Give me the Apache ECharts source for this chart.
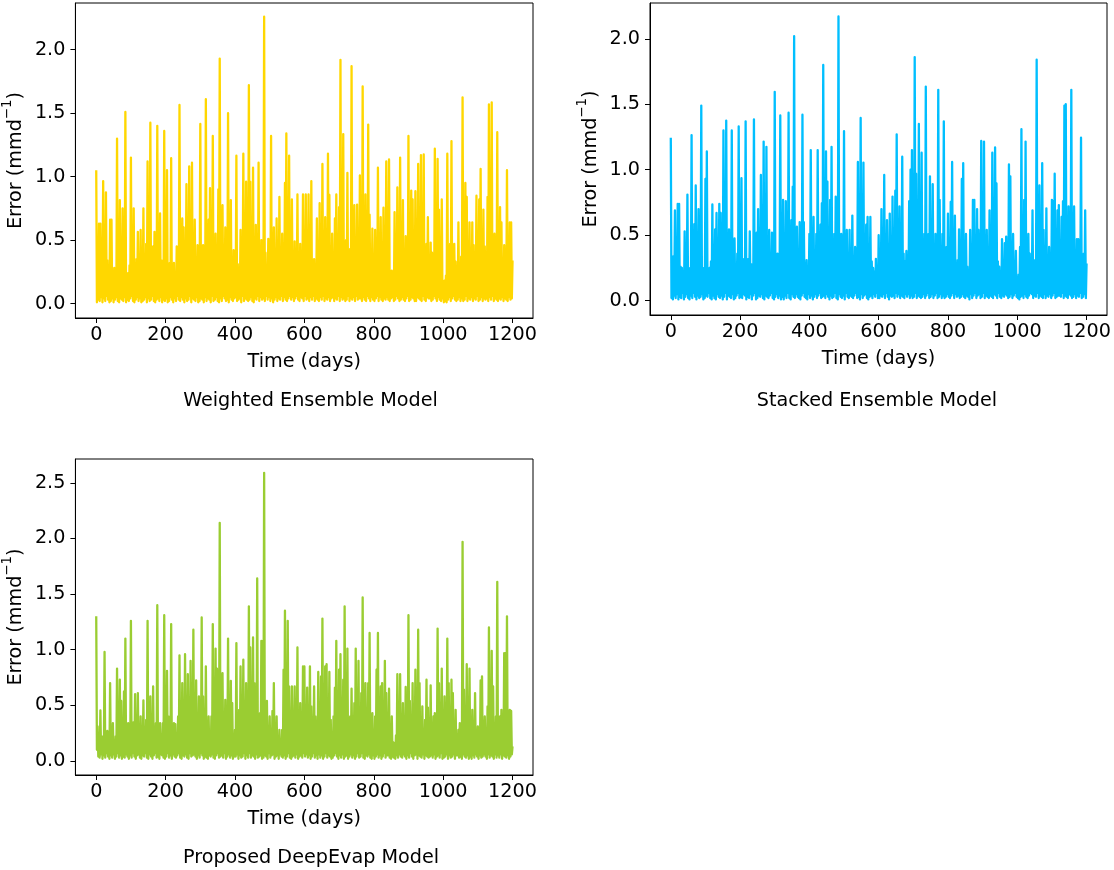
<!DOCTYPE html>
<html><head><meta charset="utf-8">
<script src="https://cdn.jsdelivr.net/npm/echarts@6/dist/echarts.min.js"></script>
<style>html,body{margin:0;padding:0;background:#fff}#c{width:1114px;height:870px}</style>
</head><body><div id="c"></div>
<script>
// Values.
// "Crests": local highs every 4 days (day 0 .. 1200); "troughs": the lows in between (days 2, 6, 10, ...).
const weightedCrests = [
1.05,0.22,0.63,0.63,0.18,0.965,0.27,0.876,0.34,0.20,
0.66,0.66,0.25,0.28,0.17,1.30,0.31,0.815,0.22,0.75,
0.26,1.51,0.19,0.24,0.30,1.15,0.21,0.75,0.28,0.35,
0.565,0.24,0.58,0.33,0.75,0.20,0.47,1.12,0.26,1.425,
0.23,0.45,0.565,0.29,1.40,0.18,0.71,0.34,0.32,1.36,
0.25,1.05,0.21,0.32,1.145,0.27,0.32,0.19,0.45,0.30,
1.565,0.26,0.67,0.60,0.22,0.94,0.35,1.08,0.24,1.11,
0.28,0.66,0.20,0.46,0.31,1.415,0.25,0.46,0.29,1.61,
0.23,0.66,0.91,0.36,1.32,0.27,0.55,0.30,0.90,1.93,
0.33,0.775,0.26,0.60,0.38,1.50,0.29,0.815,0.34,0.42,
0.27,1.165,0.31,0.25,0.58,0.36,1.18,0.28,0.96,0.33,
1.72,0.96,0.30,1.07,0.37,0.62,0.26,1.11,0.35,0.50,
0.31,2.26,0.40,0.30,0.51,0.28,1.32,0.36,0.60,0.30,
0.67,0.34,0.84,0.27,0.55,0.39,0.95,1.34,0.32,1.165,
0.29,0.82,0.36,0.49,0.25,0.86,0.33,0.47,0.30,0.86,
0.35,0.86,0.28,0.86,0.37,0.965,0.30,0.35,0.26,0.67,
0.32,0.79,0.38,1.10,0.27,0.68,0.34,1.18,0.855,0.29,
0.55,0.33,0.67,0.86,0.25,0.76,1.92,0.36,1.335,0.30,
0.50,1.03,0.28,0.43,1.87,0.35,0.775,0.29,0.78,0.33,
1.01,0.27,1.71,0.38,0.86,0.31,1.41,0.70,0.26,0.59,
0.34,0.58,0.29,1.07,0.36,0.68,0.25,0.755,0.31,1.12,
0.30,1.135,0.22,0.26,0.19,0.72,0.33,0.915,0.28,1.15,
0.36,0.815,0.27,0.53,0.32,1.32,0.38,0.89,0.82,0.29,
0.885,0.35,1.10,0.30,1.17,0.37,1.175,0.28,0.47,0.68,
0.33,0.48,0.40,0.26,1.22,0.34,1.14,0.74,0.30,0.82,
0.15,0.18,0.22,1.18,0.31,0.47,1.28,0.27,0.47,0.33,
0.29,0.64,0.25,0.37,1.625,0.35,0.95,0.84,0.28,0.64,
0.32,0.64,0.46,0.27,0.85,0.36,0.82,1.06,0.30,0.74,
0.45,0.33,0.84,1.57,0.55,1.585,0.29,0.55,0.34,1.35,
0.31,0.76,0.64,0.27,0.46,0.35,1.05,0.30,0.64,0.64,0.34
];
const weightedTroughs = [
0.01,0.03,0.02,0.05,0.01,0.04,0.02,0.06,0.03,0.01,
0.02,0.04,0.01,0.03,0.05,0.02,0.01,0.04,0.03,0.02,
0.05,0.01,0.03,0.02,0.04,0.06,0.02,0.01,0.03,0.05,
0.02,0.04,0.01,0.02,0.03,0.05,0.01,0.04,0.02,0.03,
0.06,0.02,0.01,0.03,0.04,0.02,0.05,0.01,0.03,0.02,
0.04,0.01,0.02,0.05,0.03,0.01,0.04,0.02,0.06,0.03,
0.02,0.05,0.03,0.01,0.04,0.02,0.03,0.06,0.01,0.04,
0.03,0.02,0.05,0.01,0.02,0.04,0.03,0.01,0.05,0.02,
0.04,0.03,0.01,0.06,0.02,0.03,0.05,0.02,0.01,0.04,
0.02,0.06,0.04,0.02,0.03,0.01,0.05,0.03,0.02,0.04,
0.05,0.02,0.03,0.04,0.01,0.06,0.02,0.04,0.03,0.02,
0.03,0.05,0.02,0.01,0.04,0.03,0.06,0.02,0.05,0.03,
0.04,0.02,0.06,0.03,0.05,0.02,0.04,0.01,0.03,0.05,
0.02,0.04,0.03,0.06,0.02,0.05,0.03,0.02,0.04,0.06,
0.03,0.05,0.02,0.04,0.06,0.03,0.02,0.05,0.04,0.02,
0.06,0.03,0.04,0.02,0.05,0.03,0.06,0.02,0.04,0.03,
0.02,0.05,0.03,0.06,0.02,0.04,0.03,0.05,0.02,0.04,
0.05,0.02,0.04,0.03,0.06,0.02,0.05,0.03,0.04,0.02,
0.03,0.06,0.02,0.04,0.03,0.05,0.02,0.06,0.03,0.04,
0.04,0.02,0.05,0.03,0.02,0.06,0.04,0.02,0.05,0.03,
0.02,0.04,0.06,0.02,0.05,0.03,0.02,0.04,0.03,0.05,
0.03,0.02,0.04,0.05,0.02,0.03,0.06,0.04,0.02,0.03,
0.05,0.03,0.02,0.04,0.06,0.02,0.03,0.05,0.04,0.02,
0.02,0.05,0.04,0.03,0.02,0.06,0.03,0.02,0.05,0.04,
0.04,0.02,0.03,0.06,0.04,0.02,0.05,0.03,0.02,0.04,
0.01,0.02,0.01,0.03,0.05,0.02,0.04,0.06,0.03,0.02,
0.03,0.05,0.02,0.04,0.02,0.03,0.06,0.02,0.04,0.03,
0.05,0.02,0.04,0.03,0.06,0.02,0.03,0.05,0.02,0.04,
0.03,0.04,0.02,0.05,0.03,0.06,0.02,0.04,0.03,0.02,
0.04,0.03,0.05,0.02,0.04,0.03,0.02,0.05,0.03,0.04
];
const stackedCrests = [
1.245,0.21,0.34,0.69,0.18,0.74,0.74,0.26,0.25,0.19,
0.53,0.24,0.81,0.20,0.25,1.265,0.28,0.585,0.88,0.22,
0.70,0.27,1.49,0.19,0.25,0.93,1.14,0.23,0.25,0.30,
0.735,0.26,0.545,0.67,0.21,0.74,0.67,0.29,1.30,0.24,
1.375,0.31,0.545,0.22,1.30,0.27,0.475,0.20,0.36,1.33,
0.25,0.935,0.30,0.32,1.37,0.23,0.32,0.53,0.28,0.25,
1.385,0.33,0.52,0.70,0.26,0.96,0.30,1.215,0.35,1.175,
0.29,0.54,0.24,0.52,0.32,1.595,0.27,0.36,0.22,1.415,
0.31,0.77,0.28,0.76,0.35,1.435,0.30,0.615,0.87,2.02,
0.34,0.565,0.27,0.60,0.36,1.42,0.60,0.29,0.31,0.25,
0.51,1.15,0.32,0.64,0.28,0.51,1.15,0.37,0.58,0.745,
1.80,0.35,1.14,0.91,0.30,0.77,1.175,0.33,0.51,0.795,
0.27,2.17,0.36,0.51,0.31,1.295,0.38,0.54,0.29,0.54,
0.33,0.65,0.28,0.41,0.35,1.06,0.30,1.395,0.37,1.055,
0.32,0.58,0.64,0.27,0.64,0.30,0.25,0.22,0.32,0.20,
0.50,0.28,0.70,0.33,0.96,0.26,0.615,0.31,0.665,0.24,
0.795,0.30,0.84,1.27,0.34,0.72,0.29,1.10,0.36,0.30,
0.38,0.27,0.76,1.00,1.15,0.33,1.86,0.97,0.35,1.35,
0.31,1.13,0.28,0.51,1.635,0.34,0.51,0.95,0.30,0.89,
0.36,0.51,0.27,1.61,0.77,0.32,0.51,1.37,0.29,0.41,
0.665,0.30,0.755,1.06,0.35,0.65,0.28,0.31,0.545,0.33,
0.93,1.05,0.22,0.51,0.26,0.21,0.54,0.30,0.77,0.77,
0.32,0.70,0.54,0.27,1.22,0.34,1.215,0.29,0.54,0.31,
0.69,0.33,1.13,0.28,1.17,0.895,0.30,0.26,0.22,0.47,
0.25,0.44,0.49,0.29,1.04,0.95,0.33,0.51,0.27,0.38,
0.18,0.20,0.41,1.31,0.32,0.77,1.215,0.28,0.51,0.36,
0.26,0.69,0.31,0.26,1.84,0.34,0.88,0.29,1.05,0.54,
0.30,0.705,0.27,0.41,0.33,0.77,0.76,0.97,0.31,0.69,
0.73,0.28,0.64,0.76,1.49,1.50,0.34,0.72,0.30,1.61,
0.33,0.72,0.27,0.47,0.47,0.31,1.245,0.28,0.36,0.69,0.285
];
const stackedTroughs = [
0.02,0.01,0.04,0.02,0.05,0.01,0.03,0.02,0.06,0.01,
0.03,0.05,0.02,0.01,0.04,0.02,0.06,0.03,0.01,0.04,
0.02,0.03,0.05,0.01,0.02,0.04,0.03,0.06,0.02,0.01,
0.04,0.02,0.01,0.05,0.03,0.02,0.04,0.01,0.03,0.06,
0.01,0.04,0.03,0.02,0.05,0.01,0.02,0.04,0.06,0.02,
0.03,0.02,0.05,0.04,0.01,0.03,0.02,0.05,0.01,0.04,
0.06,0.01,0.02,0.04,0.03,0.05,0.02,0.01,0.04,0.03,
0.02,0.04,0.06,0.02,0.01,0.03,0.05,0.02,0.04,0.01,
0.03,0.01,0.04,0.02,0.06,0.02,0.01,0.05,0.03,0.02,
0.05,0.03,0.02,0.01,0.04,0.06,0.03,0.02,0.01,0.05,
0.02,0.04,0.01,0.03,0.05,0.02,0.04,0.06,0.02,0.03,
0.04,0.02,0.05,0.03,0.01,0.04,0.02,0.03,0.06,0.02,
0.01,0.05,0.03,0.02,0.04,0.01,0.06,0.03,0.02,0.04,
0.03,0.02,0.04,0.06,0.02,0.03,0.01,0.05,0.02,0.04,
0.05,0.02,0.01,0.03,0.04,0.02,0.05,0.03,0.06,0.02,
0.02,0.04,0.03,0.05,0.02,0.06,0.03,0.01,0.04,0.03,
0.04,0.02,0.06,0.03,0.05,0.02,0.04,0.03,0.02,0.05,
0.03,0.05,0.02,0.04,0.02,0.03,0.06,0.02,0.04,0.03,
0.02,0.03,0.05,0.02,0.04,0.06,0.02,0.03,0.05,0.02,
0.04,0.06,0.02,0.03,0.05,0.02,0.04,0.02,0.03,0.05,
0.03,0.02,0.04,0.06,0.02,0.05,0.03,0.04,0.02,0.03,
0.05,0.03,0.02,0.04,0.03,0.01,0.05,0.02,0.04,0.06,
0.02,0.04,0.05,0.02,0.03,0.06,0.02,0.04,0.03,0.02,
0.04,0.03,0.02,0.05,0.04,0.02,0.06,0.03,0.02,0.04,
0.03,0.05,0.04,0.02,0.03,0.05,0.02,0.04,0.06,0.03,
0.02,0.01,0.03,0.04,0.02,0.05,0.03,0.02,0.04,0.06,
0.05,0.02,0.04,0.03,0.06,0.02,0.04,0.03,0.02,0.05,
0.02,0.04,0.03,0.05,0.02,0.04,0.06,0.02,0.03,0.04,
0.04,0.03,0.06,0.02,0.04,0.03,0.02,0.05,0.04,0.02,
0.03,0.05,0.02,0.04,0.03,0.06,0.02,0.03,0.05,0.02
];
const deepEvapCrests = [
1.30,0.31,0.18,0.455,0.22,0.22,0.98,0.19,0.27,0.17,
0.70,0.23,0.34,0.18,0.22,0.83,0.25,0.73,0.54,0.20,
0.625,1.10,0.21,0.34,0.17,1.26,0.24,0.35,0.60,0.19,
0.61,0.22,0.40,0.18,0.545,0.26,0.37,1.26,0.20,0.58,
0.23,0.67,0.19,0.34,1.40,0.25,0.34,0.18,0.34,1.31,
0.21,0.81,0.40,0.17,1.23,0.24,0.34,0.33,0.19,0.40,
0.95,0.26,0.70,0.22,0.96,0.28,0.78,0.24,0.90,0.27,
1.18,0.23,0.725,0.29,0.58,0.25,1.29,0.58,0.22,0.85,
0.27,0.40,0.24,0.40,1.23,0.28,1.01,0.83,0.25,2.14,
0.30,0.79,0.26,0.55,0.23,1.10,0.29,0.72,0.52,0.24,
0.28,1.06,0.27,0.46,0.85,0.30,0.91,0.25,0.70,0.28,
1.39,1.02,0.26,1.11,0.70,0.31,1.64,0.27,0.43,1.08,
1.08,2.59,0.30,0.54,0.25,0.40,0.28,0.45,0.70,0.24,
0.40,0.20,0.28,0.17,0.28,0.82,1.35,0.27,1.26,0.67,
0.29,0.67,0.25,0.67,0.52,1.02,0.28,0.52,0.31,0.85,
0.85,0.27,0.66,0.30,0.85,0.49,0.26,0.67,0.40,0.29,
0.80,0.31,0.76,1.28,0.27,0.85,0.87,0.30,0.80,0.37,
0.24,0.40,0.66,1.08,0.28,0.82,0.96,0.32,0.73,1.39,
0.29,1.01,0.26,0.40,0.65,0.31,0.52,1.01,0.27,0.90,
0.25,0.61,1.47,0.30,0.70,0.28,0.70,1.15,0.24,0.43,
0.22,0.40,0.82,1.15,0.29,0.67,0.70,0.26,0.90,0.61,
0.25,0.65,0.21,0.40,0.17,0.16,0.23,0.78,0.27,0.78,
0.24,0.52,0.30,0.665,0.26,1.31,0.54,0.29,0.70,0.27,
0.82,0.31,1.18,0.70,0.25,0.49,0.28,0.37,0.73,0.48,
0.26,0.68,0.30,0.40,0.43,0.24,1.19,0.70,0.28,0.83,
0.30,0.58,0.25,1.10,0.70,0.29,0.73,0.61,0.26,0.46,
0.22,0.28,0.34,0.25,1.97,0.64,0.27,0.87,0.30,0.83,
0.24,0.46,0.28,0.61,0.22,0.31,0.26,0.725,0.76,0.23,
0.40,0.26,0.49,1.20,0.29,0.99,0.67,0.25,0.40,1.61,
0.27,0.40,0.46,0.24,0.97,0.97,1.30,0.28,0.46,0.45,0.13
];
const deepEvapTroughs = [
0.10,0.04,0.03,0.06,0.02,0.05,0.03,0.07,0.04,0.02,
0.05,0.03,0.06,0.02,0.04,0.07,0.03,0.05,0.02,0.04,
0.03,0.06,0.04,0.02,0.05,0.03,0.07,0.04,0.02,0.05,
0.06,0.03,0.02,0.05,0.04,0.07,0.03,0.02,0.06,0.04,
0.02,0.05,0.07,0.03,0.04,0.02,0.06,0.05,0.03,0.02,
0.04,0.07,0.03,0.05,0.02,0.06,0.04,0.03,0.05,0.07,
0.03,0.02,0.05,0.04,0.06,0.03,0.02,0.07,0.04,0.05,
0.06,0.04,0.02,0.05,0.03,0.07,0.05,0.02,0.04,0.03,
0.02,0.05,0.04,0.06,0.03,0.02,0.05,0.07,0.03,0.04,
0.05,0.03,0.07,0.02,0.04,0.06,0.03,0.05,0.02,0.04,
0.04,0.06,0.02,0.05,0.03,0.04,0.07,0.02,0.05,0.03,
0.07,0.03,0.05,0.04,0.02,0.06,0.03,0.04,0.05,0.02,
0.03,0.05,0.04,0.02,0.07,0.03,0.05,0.06,0.02,0.04,
0.05,0.02,0.06,0.04,0.03,0.05,0.02,0.04,0.07,0.03,
0.02,0.04,0.05,0.03,0.06,0.02,0.04,0.05,0.03,0.07,
0.04,0.06,0.03,0.05,0.02,0.04,0.07,0.03,0.05,0.02,
0.06,0.03,0.05,0.02,0.04,0.07,0.03,0.05,0.04,0.02,
0.03,0.05,0.07,0.04,0.02,0.05,0.03,0.06,0.02,0.04,
0.05,0.02,0.04,0.06,0.03,0.05,0.02,0.04,0.07,0.03,
0.04,0.07,0.03,0.02,0.05,0.04,0.06,0.03,0.02,0.05,
0.02,0.04,0.06,0.03,0.05,0.02,0.04,0.07,0.03,0.05,
0.05,0.03,0.02,0.04,0.03,0.02,0.05,0.03,0.06,0.04,
0.03,0.06,0.04,0.02,0.05,0.03,0.07,0.04,0.02,0.05,
0.06,0.02,0.05,0.04,0.03,0.06,0.02,0.05,0.04,0.03,
0.04,0.05,0.03,0.06,0.02,0.04,0.05,0.03,0.07,0.02,
0.03,0.04,0.06,0.02,0.05,0.03,0.04,0.06,0.02,0.05,
0.05,0.03,0.04,0.02,0.06,0.04,0.03,0.05,0.02,0.04,
0.02,0.05,0.03,0.06,0.04,0.02,0.05,0.03,0.04,0.06,
0.04,0.02,0.06,0.03,0.05,0.04,0.02,0.06,0.03,0.05,
0.03,0.06,0.02,0.05,0.04,0.03,0.05,0.02,0.04,0.06
];
const crestStepDays = 4;
const xTicks = [0,200,400,600,800,1000,1200];
const yTicksTop = [0,0.5,1.0,1.5,2.0];
const yTicksBottom = [0,0.5,1.0,1.5,2.0,2.5];
const panelTitles = ['Weighted Ensemble Model','Stacked Ensemble Model','Proposed DeepEvap Model'];
const xName = 'Time (days)';
const yName = 'Error (mmd{sup|\u22121})';
const colors = ['#FFD700','#00BFFF','#9ACD32'];

const FONT = 'DejaVu Sans';
const FS = 19.2;
// interleave crest (day 4i) and trough (day 4i+2) readings into [day, value] pairs
function toPairs(crests, troughs){
  const out = [];
  crests.forEach((v,i)=>{
    out.push([i*crestStepDays, v]);
    if (i < troughs.length) out.push([i*crestStepDays + crestStepDays/2, troughs[i]]);
  });
  return out;
}

const grids = [
  {left:75, top:3, width:458, height:315},
  {left:650, top:3, width:457, height:312},
  {left:75, top:459, width:458, height:316}
];
const yRanges = [[-0.114,2.368],[-0.109,2.273],[-0.126,2.714]];
const yTickSets = [yTicksTop, yTicksTop, yTicksBottom];

const txt = {fontFamily:FONT, fontSize:FS, color:'#000'};
const xAxes = grids.map((g,i)=>({
  type:'value', gridIndex:i, min:-60, max:1259,
  name:xName, nameLocation:'middle', nameGap:35, nameTextStyle:txt,
  axisLine:{show:true,onZero:false,lineStyle:{color:'#000',width:1}},
  axisTick:{show:true,customValues:xTicks,length:5,lineStyle:{color:'#000',width:1}},
  axisLabel:{show:true,customValues:xTicks,margin:8,formatter:v=>String(v),...txt},
  splitLine:{show:false}
}));
const yAxes = grids.map((g,i)=>({
  type:'value', gridIndex:i, min:yRanges[i][0], max:yRanges[i][1],
  name:yName, nameLocation:'middle', nameRotate:90, nameGap:38,
  nameTextStyle:{...txt, lineHeight:30, rich:{sup:{fontFamily:FONT, fontSize:13.4, color:'#000', lineHeight:16, verticalAlign:'top'}}},
  axisLine:{show:true,onZero:false,lineStyle:{color:'#000',width:1}},
  axisTick:{show:true,customValues:yTickSets[i],length:5,lineStyle:{color:'#000',width:1}},
  axisLabel:{show:true,customValues:yTickSets[i],margin:10,formatter:v=>Number(v).toFixed(1),...txt},
  splitLine:{show:false}
}));
const seriesData = [
  toPairs(weightedCrests, weightedTroughs),
  toPairs(stackedCrests, stackedTroughs),
  toPairs(deepEvapCrests, deepEvapTroughs)
];
const series = seriesData.map((d,i)=>({
  type:'line', xAxisIndex:i, yAxisIndex:i, data:d,
  showSymbol:false, symbol:'none', animation:false, silent:true,
  lineStyle:{color:colors[i], width:2.3, join:'round'}, itemStyle:{color:colors[i]}
}));
const titlePos = [[310.5,401],[877,401],[311,858]];
const graphic = panelTitles.map((t,i)=>({
  type:'text', x:titlePos[i][0], y:titlePos[i][1], silent:true,
  style:{text:t, font:FS+'px "'+FONT+'"', fill:'#000', align:'center', verticalAlign:'middle'}
}));

const chart = echarts.init(document.getElementById('c'), null, {renderer:'canvas'});
chart.setOption({
  animation:false,
  backgroundColor:'#fff',
  grid: grids.map(g=>({...g, show:true, borderColor:'#000', borderWidth:1, backgroundColor:'#fff'})),
  xAxis:xAxes, yAxis:yAxes, series, graphic
});
</script></body></html>
